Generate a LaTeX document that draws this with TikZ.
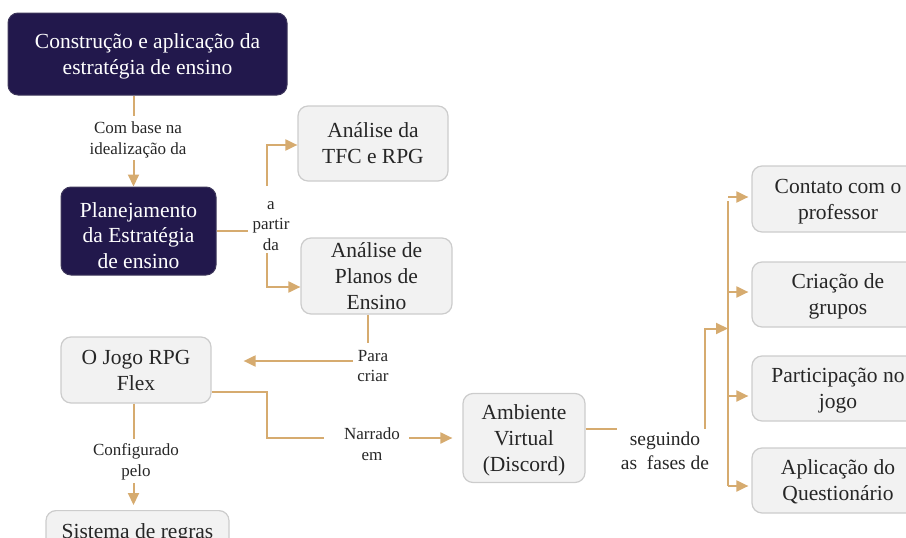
\documentclass[tikz,border=0pt]{standalone}
\usepackage{fontspec}
\setmainfont{Liberation Serif}
\usetikzlibrary{arrows.meta,calc}
\definecolor{darkbox}{HTML}{22184C}
\definecolor{lightbox}{HTML}{F2F2F2}
\definecolor{lightline}{HTML}{CCCCCC}
\definecolor{tan}{HTML}{D6AB6F}
\tikzset{
  darknode/.style={draw=darkbox!70!gray, line width=1pt, fill=darkbox, rounded corners=10pt, text=white, align=center, font=\fontsize{21.5}{25.5}\selectfont, inner sep=0pt, text depth=0pt},
  lightnode/.style={draw=lightline, line width=1.2pt, fill=lightbox, rounded corners=10pt, text=black!85, align=center, font=\fontsize{21.5}{26}\selectfont, inner sep=0pt, text depth=0pt},
  lbl/.style={align=center, font=\fontsize{17}{20.5}\selectfont, text=black!85, inner sep=4pt},
  con/.style={draw=tan, line width=2pt},
  arr/.style={con, -{Triangle[length=12pt,width=11pt]}},
}
\begin{document}
\begin{tikzpicture}[x=1pt,y=-1pt]
\useasboundingbox (0,0) rectangle (906,538);
\clip (0,0) rectangle (906,538);
% nodes
\node[darknode, minimum width=279pt, minimum height=82pt] (c1) at (147.5,54) {Construção e aplicação da\\estratégia de ensino};
\node[lbl] (lb1) at (138,140) {Com base na\\idealização da};
\node[darknode, minimum width=155pt, minimum height=88pt] (p1) at (138.5,231) {\rule{0pt}{23pt}Planejamento\\da Estratégia\\de ensino};
\node[lbl] (lbA) at (271,226) {a\\partir\\da};
\node[lightnode, minimum width=150pt, minimum height=75pt] (t1) at (373,143.5) {Análise da\\TFC e RPG};
\node[lightnode, minimum width=151pt, minimum height=76pt] (t2) at (376.5,276) {Análise de\\Planos de\\Ensino};
\node[lbl] (lbP) at (373,366) {Para\\criar};
\node[lightnode, minimum width=150pt, minimum height=66pt] (j1) at (136,370) {O Jogo RPG\\Flex};
\node[lbl] (lbC) at (136,462) {Configurado\\pelo};
\node[lightnode, minimum width=183pt, minimum height=40pt, anchor=north] (s1) at (137.5,510) {Sistema de regras};
\node[lbl] (lbN) at (372,444) {Narrado\\em};
\node[lightnode, minimum width=122pt, minimum height=89pt] (amb) at (524,438) {Ambiente\\Virtual\\(Discord)};
\node[lbl, font=\fontsize{19.5}{24}\selectfont] (lbS) at (665,451) {seguindo\\as\enspace fases de};
\node[lightnode, minimum width=172pt, minimum height=66pt] (r1) at (838,199) {Contato com o\\professor};
\node[lightnode, minimum width=172pt, minimum height=65pt] (r2) at (838,294.5) {Criação de\\grupos};
\node[lightnode, minimum width=172pt, minimum height=65pt] (r3) at (838,388.5) {Participação no\\jogo};
\node[lightnode, minimum width=172pt, minimum height=65pt] (r4) at (838,480.5) {Aplicação do\\Questionário};
% turning points
\coordinate (xa) at (133.5,0);
\coordinate (ax) at (266.5,0);
\coordinate (px) at (368,361);
\coordinate (nT) at (266.5,438);
\coordinate (sx) at (704.5,328.5);
\coordinate (bus) at (728,0);
% connectors
\draw[con] (c1.south -| xa) -- ([yshift=2pt]lb1.north -| xa);
\draw[arr] ([yshift=2pt]lb1.south -| xa) -- (p1.north -| xa);
\draw[con] (p1.east) -- (lbA.west |- p1.east);
\draw[arr] ([yshift=11pt]lbA.north -| ax) |- ([yshift=-1.5pt]t1.west);
\draw[arr] ([yshift=2pt]lbA.south -| ax) |- ([yshift=-11pt]t2.west);
\draw[con] (t2.south -| px) -- ([yshift=3pt]lbP.north -| px);
\draw[arr] (lbP.west |- px) -- ([xshift=32pt]j1.east |- px);
\draw[con] (j1.south -| xa) -- ([yshift=1pt]lbC.north -| xa);
\draw[arr] ([yshift=1pt]lbC.south -| xa) -- ([yshift=5pt]s1.north -| xa);
\draw[con] ([yshift=-22pt]j1.east) -| (nT) -- ([xshift=-16pt]lbN.west |- nT);
\draw[arr] ([xshift=5pt]lbN.east |- nT) -- ([xshift=-10pt]amb.west |- nT);
\draw[con] ([yshift=9pt]amb.east) -- ([yshift=9pt]amb.east -| lbS.west);
\draw[arr] ([yshift=-1pt]lbS.north -| sx) -- (sx) -- (sx -| bus);
\draw[con] ([yshift=-2pt]r1.west -| bus) -- ([yshift=-5.5pt]r4.west -| bus);
\draw[arr] ([yshift=2pt]r1.west -| bus) -- ([yshift=2pt,xshift=-3pt]r1.west);
\draw[arr] ([yshift=2.5pt]r2.west -| bus) -- ([yshift=2.5pt,xshift=-3pt]r2.west);
\draw[arr] ([yshift=-7.5pt]r3.west -| bus) -- ([yshift=-7.5pt,xshift=-3pt]r3.west);
\draw[arr] ([yshift=-5.5pt]r4.west -| bus) -- ([yshift=-5.5pt,xshift=-3pt]r4.west);
\end{tikzpicture}
\end{document}
